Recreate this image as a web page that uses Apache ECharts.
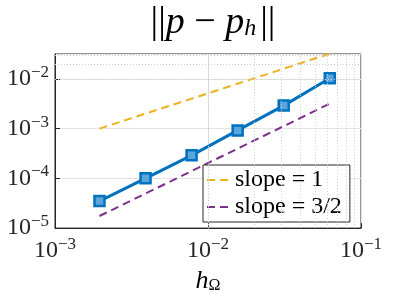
<!DOCTYPE html>
<html><head><meta charset="utf-8">
<script src="https://cdn.jsdelivr.net/npm/echarts@6/dist/echarts.min.js"></script>
<style>html,body{margin:0;padding:0;background:#fff}#c{width:399px;height:299px}</style>
</head><body><div id="c"></div>
<script>
// data
const h = [1/512, 1/256, 1/128, 1/64, 1/32, 1/16];
const errP = [3.5e-5, 1.0e-4, 2.9e-4, 9.2e-4, 2.9e-3, 1.03e-2];
const slope1 = [1.0e-3, 2.0e-3, 4.0e-3, 8.0e-3, 1.6e-2, 3.2e-2];
const slope32 = [1.75e-5, 4.95e-5, 1.4e-4, 3.96e-4, 1.12e-3, 3.17e-3];
const legendNames = ['slope = 1', 'slope = 3/2'];
const xMinor = [], yMinor = [];
for (const d of [1e-3, 1e-2]) for (let k = 2; k <= 9; k++) xMinor.push(k * d);
for (const d of [1e-5, 1e-4, 1e-3, 1e-2]) for (let k = 2; k <= 9; k++) if (k * d < 0.0316) yMinor.push(k * d);

const FONT = 'Liberation Serif';
function powLabel(v) {
  const l = Math.log10(v), e = Math.round(l);
  if (Math.abs(l - e) > 1e-6) return '';
  return '{b|10}{e|' + (e < 0 ? '\u2212' + (-e) : e) + '}';
}
const richPow = {
  b: {fontFamily: FONT, fontSize: 24, color: '#262626'},
  e: {fontFamily: FONT, fontSize: 17, color: '#262626', padding: [0, 0, 13, 0]}
};
const chart = echarts.init(document.getElementById('c'), null, {renderer: 'canvas'});
const gridLine = {show: true, lineStyle: {color: '#e3e3e3', width: 1}};
chart.setOption({
  animation: false,
  title: {
    text: '{n|||}{i|p}{n| \u2212 }{i|p}{s|h}{n|||}',
    left: 208, textAlign: 'center', top: -1,
    textStyle: {
      fontWeight: 'normal', fontFamily: FONT,
      rich: {
        n: {fontFamily: FONT, fontSize: 38, fontWeight: 'normal', color: '#000'},
        i: {fontFamily: FONT, fontSize: 38, fontStyle: 'italic', fontWeight: 'normal', color: '#000'},
        s: {fontFamily: FONT, fontSize: 24, fontStyle: 'italic', fontWeight: 'normal', color: '#000', padding: [12, 4, 0, 0]}
      }
    }
  },
  grid: {left: 55, right: 38, top: 54, bottom: 70, show: true, borderColor: '#262626', borderWidth: 1, backgroundColor: '#fff'},
  legend: {
    data: legendNames,
    orient: 'vertical', left: 203, top: 165,
    itemWidth: 26, itemHeight: 12, itemGap: 3,
    padding: [3, 8, 3, 3],
    itemStyle: {opacity: 0},
    backgroundColor: '#fff', borderColor: '#262626', borderWidth: 1, borderRadius: 0,
    textStyle: {fontFamily: FONT, fontSize: 24, color: '#000', padding: [0, 0, 0, -3]}
  },
  xAxis: {
    type: 'log', min: 1e-3, max: 1e-1, logBase: 10,
    name: '{i|h}{s|\u03A9}', nameLocation: 'middle', nameGap: 38,
    nameTextStyle: {rich: {
      i: {fontFamily: FONT, fontSize: 26, fontStyle: 'italic', color: '#000'},
      s: {fontFamily: FONT, fontSize: 16, color: '#000', padding: [10, 0, 0, 0]}
    }},
    axisLine: {show: true, lineStyle: {color: '#262626'}},
    axisTick: {show: true, inside: true, length: 5, lineStyle: {color: '#262626'}},
    axisLabel: {formatter: powLabel, rich: richPow, margin: 8},
    splitLine: gridLine
  },
  yAxis: {
    type: 'log', min: 1e-5, max: 0.0316, logBase: 10,
    axisLine: {show: true, lineStyle: {color: '#262626'}},
    axisTick: {show: true, inside: true, length: 5, lineStyle: {color: '#262626'}},
    axisLabel: {formatter: powLabel, rich: richPow, margin: 6, showMaxLabel: false},
    splitLine: gridLine
  },
  series: [
    {
      name: 'minor', type: 'line', data: [], silent: true,
      markLine: {
        silent: true, symbol: 'none', label: {show: false}, animation: false,
        lineStyle: {color: '#cfcfcf', type: [1, 2], width: 1},
        data: xMinor.map(v => ({xAxis: v})).concat(yMinor.map(v => ({yAxis: v})))
      }
    },
    {
      name: 'slope = 1', type: 'line', data: h.map((x, i) => [x, slope1[i]]),
      symbol: 'none', lineStyle: {color: '#EDB120', width: 2, type: [8, 5]}, itemStyle: {color: '#EDB120'}
    },
    {
      name: 'slope = 3/2', type: 'line', data: h.map((x, i) => [x, slope32[i]]),
      symbol: 'none', lineStyle: {color: '#7E2F8E', width: 2, type: [8, 5]}, itemStyle: {color: '#7E2F8E'}
    },
    {
      name: 'err', type: 'line', data: h.map((x, i) => [x, errP[i]]),
      symbol: 'rect', symbolSize: 10, showSymbol: true,
      lineStyle: {color: '#0072BD', width: 3},
      itemStyle: {color: '#5aa6dc', borderColor: '#0072BD', borderWidth: 2.5}
    }
  ]
});
</script></body></html>
